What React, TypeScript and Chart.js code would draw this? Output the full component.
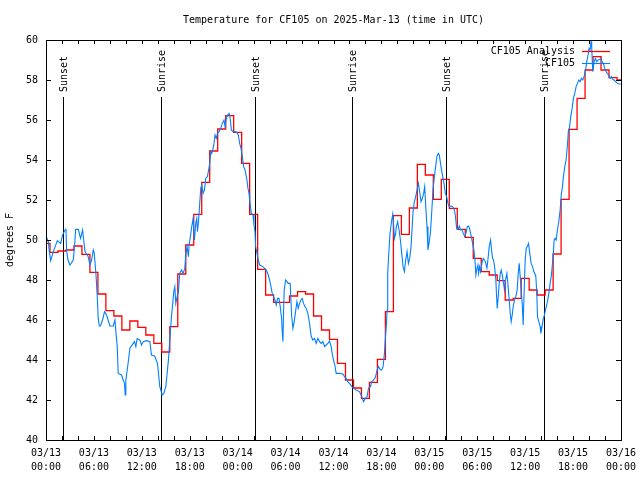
import React, { useEffect, useRef } from "react";
import { Chart, registerables } from "chart.js";

Chart.register(...registerables);

const TITLE = "Temperature for CF105 on 2025-Mar-13 (time in UTC)";
const Y_LABEL = "degrees F";
const ANALYSIS_NAME = "CF105 Analysis";
const OBS_NAME = "CF105";

// Hourly analysis values, hour 0 .. 72 (03/13 00:00 .. 03/16 00:00 UTC)
const analysisTemps = [
  49.83, 49.38, 49.45, 49.5, 49.7, 49.28, 48.38, 47.3, 46.47, 46.2,
  45.5, 45.95, 45.63, 45.25, 44.83, 44.4, 45.67, 48.3, 49.75, 51.28,
  52.88, 54.45, 55.55, 56.22, 55.38, 53.83, 51.28, 48.53, 47.25, 46.88,
  46.88, 47.2, 47.42, 47.3, 46.2, 45.5, 45.03, 43.83, 43.0, 42.6,
  42.08, 42.88, 44.03, 46.42, 51.22, 50.28, 51.6, 53.78, 53.25, 52.03,
  53.03, 51.58, 50.53, 50.13, 49.08, 48.42, 48.25, 47.97, 47.0, 47.08,
  48.08, 47.5, 47.25, 47.5, 49.3, 52.03, 55.53, 57.08, 58.5, 59.17,
  58.5, 58.12, 58.0,
];

// Observations: hours since 03/13 00:00 UTC and temperatures (F)
const obsHours = [
  0.0, 0.29, 0.42, 0.58, 0.92, 1.42, 1.83, 2.08, 2.38, 2.5, 2.58, 2.75, 3.0, 3.42, 3.63, 3.71,
  4.04, 4.33, 4.58, 4.88, 5.29, 5.5, 5.71, 5.92, 6.04, 6.25, 6.42, 6.54, 6.67, 6.83, 7.08, 7.33,
  7.58, 8.0, 8.42, 8.63, 8.75, 8.92, 9.04, 9.46, 9.67, 9.83, 9.92, 10.0, 10.17, 10.33, 10.5, 10.92,
  11.08, 11.25, 11.42, 11.75, 11.96, 12.17, 12.58,
  13.0, 13.21, 13.6, 13.96, 14.25, 14.38, 14.54, 14.75, 15.0, 15.17, 15.33, 15.5, 15.71, 15.83,
  16.0, 16.13, 16.25, 16.42, 16.58, 16.75, 16.96, 17.17, 17.38, 17.5, 17.67, 17.83, 17.92, 18.08,
  18.25, 18.42, 18.58, 18.75, 18.88, 18.96, 19.08, 19.25, 19.38, 19.5, 19.67, 19.83, 20.0, 20.21,
  20.33, 20.5, 20.63, 20.75, 20.92, 21.04, 21.17, 21.33, 21.46, 21.67, 21.88, 22.08, 22.29, 22.42,
  22.58, 22.75, 22.92, 23.04, 23.21, 23.42, 23.67, 23.88, 24.08, 24.25, 24.42, 24.58, 24.75, 24.92,
  25.13, 25.29, 25.42, 25.5, 25.71, 25.92, 26.04, 26.17, 26.25, 26.42, 26.58,
  26.75, 27.17, 27.5, 27.67, 27.83, 28.0, 28.17, 28.33, 28.5, 28.67, 28.83, 29.0, 29.17, 29.33,
  29.5, 29.58, 29.67, 29.75, 29.83, 30.0, 30.17, 30.33, 30.58, 30.75, 30.92, 31.08, 31.25, 31.42,
  31.58, 31.75, 31.92, 32.08, 32.25, 32.42, 32.58, 32.79, 33.0, 33.21, 33.42, 33.63, 33.83, 34.04,
  34.25, 34.46, 34.67, 34.88, 35.08, 35.29, 35.5, 35.71, 35.83, 36.0, 36.17, 36.33, 36.75, 37.17,
  37.38, 37.58, 37.79, 38.0, 38.29, 38.54, 38.83, 39.25, 39.54, 39.75, 40.0, 40.21, 40.38, 40.63,
  40.79, 41.04, 41.25, 41.46, 41.63, 41.88, 42.04, 42.21, 42.38, 42.5, 42.63, 42.71, 42.79, 42.92,
  43.08, 43.29, 43.42, 43.54, 43.63, 43.75, 43.88, 44.04, 44.21, 44.38, 44.54, 44.71, 44.88, 45.04,
  45.21, 45.38, 45.54, 45.71, 45.83, 45.96, 46.13, 46.29, 46.46, 46.63, 46.79, 46.96, 47.13, 47.29,
  47.42, 47.54, 47.71, 47.83, 47.96, 48.13, 48.29, 48.46, 48.63, 48.79, 48.96, 49.13,
  49.25, 49.46, 49.67, 49.83, 50.0, 50.17, 50.33, 50.5, 50.71, 50.92, 51.13, 51.25, 51.42, 51.58,
  51.75, 51.92, 52.08, 52.25, 52.42, 52.58, 52.75, 52.92, 53.08, 53.25, 53.42, 53.58, 53.71, 53.83,
  53.96, 54.08, 54.17, 54.29, 54.42, 54.58, 54.75, 54.92, 55.08, 55.21, 55.33, 55.5, 55.67, 55.79,
  55.92, 56.04, 56.17, 56.33, 56.42, 56.5, 56.63, 56.75, 56.88, 57.0, 57.17, 57.29, 57.42, 57.54,
  57.71, 57.83, 58.0, 58.13, 58.25, 58.38, 58.5, 58.67, 58.83, 59.0, 59.13, 59.25, 59.38, 59.5,
  59.63, 59.75, 59.88, 60.0, 60.13, 60.29, 60.42, 60.58, 60.75, 60.92, 61.08,
  61.33, 61.46, 61.54, 61.71, 61.88, 61.96, 62.08, 62.25, 62.38, 62.5, 62.67, 62.83, 62.96, 63.13,
  63.29, 63.42, 63.54, 63.63, 63.75, 63.88, 64.04, 64.21, 64.38, 64.54, 64.67, 64.79, 64.96, 65.13,
  65.29, 65.42, 65.54, 65.71, 65.88, 66.04, 66.21, 66.38, 66.54, 66.71, 66.88, 67.04, 67.21, 67.38,
  67.58, 67.71, 67.88, 68.0, 68.13, 68.25, 68.33, 68.46, 68.63, 68.79, 68.96, 69.13, 69.29, 69.46,
  69.63, 69.79, 69.96, 70.13, 70.29, 70.46, 70.63, 70.79, 70.96, 71.13, 71.33, 71.54, 71.75, 71.96,
];

const obsTemps = [
  50.2, 49.92, 49.42, 48.97, 49.42, 49.97, 49.83, 50.25, 50.5, 50.58, 49.5, 49.0, 48.75, 49.0, 50.0, 50.53,
  50.53, 50.08, 50.5, 49.42, 49.17, 48.75, 49.0, 49.5, 49.33, 48.33, 47.17, 46.08, 45.7, 45.7, 46.0, 46.42,
  46.25, 45.7, 45.7, 46.0, 45.42, 44.67, 43.33, 43.25, 43.0, 42.83, 42.25, 43.0, 43.5, 44.0, 44.58, 44.83,
  44.92, 44.67, 45.08, 45.0, 44.75, 44.92, 44.97,
  44.92, 44.25, 44.2, 43.83, 42.67, 42.5, 42.25, 42.33, 42.67, 43.33, 44.0, 45.0, 46.17, 46.67,
  47.42, 47.67, 46.83, 47.17, 47.42, 48.33, 48.5, 48.33, 48.58, 49.25, 49.67, 49.17, 49.75, 50.17,
  50.67, 51.08, 50.0, 50.83, 51.08, 50.42, 50.83, 51.83, 52.58, 52.75, 52.33, 52.5, 53.08, 53.17,
  53.42, 53.83, 54.42, 54.33, 54.58, 54.83, 55.25, 55.08, 55.33, 55.42, 55.58, 55.83, 56.0, 55.67,
  56.08, 56.25, 56.33, 56.17, 55.5, 55.42, 55.42, 55.38, 55.25, 54.83, 54.58, 54.17, 53.67, 53.5,
  53.08, 52.58, 52.33, 52.0, 51.33, 51.25, 50.75, 50.42, 49.67, 49.33, 49.0,
  48.75, 48.67, 48.53, 48.42, 48.25, 48.0, 47.67, 47.33, 47.17, 47.0, 46.75, 47.08, 47.08, 46.67,
  46.08, 45.42, 44.92, 46.5, 47.5, 48.0, 47.92, 47.83, 47.83, 46.25, 45.58, 45.92, 46.42, 46.92,
  46.58, 46.83, 47.0, 47.08, 46.83, 46.67, 46.58, 46.33, 45.83, 45.17, 45.0, 45.08, 44.83, 45.08,
  44.92, 44.83, 44.92, 44.67, 44.75, 44.83, 44.95, 44.67, 44.33, 44.0, 43.75, 43.33, 43.33, 43.3,
  43.17, 43.08, 42.92, 42.83, 42.67, 42.58, 42.5, 42.42, 42.17, 41.92, 42.08, 42.17, 42.58, 42.67,
  42.92, 43.0, 43.13, 43.5, 43.67, 43.5, 43.5, 43.67, 44.33, 45.08, 45.83, 46.5, 48.33, 49.33,
  50.33, 51.0, 51.3, 50.67, 50.08, 50.25, 50.67, 50.92, 50.5, 50.0, 49.33, 48.67, 48.42, 49.0,
  49.42, 48.83, 49.08, 49.67, 50.5, 51.42, 51.92, 52.17, 52.5, 52.83, 52.42, 51.92, 52.08, 52.33,
  52.67, 51.75, 50.67, 49.5, 49.83, 50.33, 51.33, 52.5, 53.17, 53.67, 54.2, 54.33,
  54.25, 53.67, 53.17, 52.83, 52.33, 52.17, 51.83, 51.67, 51.7, 51.67, 51.5, 51.25, 50.58, 50.53,
  50.7, 50.5, 50.53, 50.33, 50.17, 50.33, 50.67, 50.7, 50.5, 50.17, 49.83, 49.5, 49.0, 48.25,
  48.58, 48.75, 48.33, 48.67, 48.42, 48.83, 49.08, 49.0, 48.83, 48.58, 49.0, 49.67, 50.0, 49.5,
  49.08, 49.0, 48.67, 48.0, 47.17, 46.58, 47.17, 47.83, 48.33, 48.5, 48.17, 47.83, 47.5, 48.0,
  48.33, 47.83, 47.0, 46.33, 45.92, 46.25, 46.67, 47.0, 47.17, 47.5, 48.33, 48.83, 48.17, 47.5,
  46.83, 45.75, 47.5, 49.0, 49.58, 49.7, 49.83, 49.33, 48.83, 48.67, 48.42,
  48.2, 47.33, 46.17, 45.92, 45.67, 45.33, 45.58, 46.03, 46.2, 46.42, 46.7, 47.0, 47.33, 47.83,
  48.25, 48.83, 49.42, 50.0, 50.08, 50.0, 50.5, 50.92, 51.5, 52.33, 52.67, 53.17, 53.67, 54.0,
  54.75, 55.5, 55.58, 56.17, 56.58, 57.08, 57.33, 57.67, 57.83, 58.0, 57.92, 58.08, 58.0, 58.17,
  58.5, 58.92, 59.25, 59.58, 59.5, 59.92, 59.67, 58.42, 58.92, 59.08, 58.92, 59.0, 59.03, 59.08,
  58.92, 58.83, 58.58, 58.42, 58.33, 58.25, 58.08, 58.17, 58.03, 58.0, 57.92, 57.83, 57.8, 57.8,
];

const xTickHours = [0, 6, 12, 18, 24, 30, 36, 42, 48, 54, 60, 66, 72];
const xTickDates = ["03/13", "03/13", "03/13", "03/13", "03/14", "03/14", "03/14", "03/14", "03/15", "03/15", "03/15", "03/15", "03/16"];
const xTickTimes = ["00:00", "06:00", "12:00", "18:00", "00:00", "06:00", "12:00", "18:00", "00:00", "06:00", "12:00", "18:00", "00:00"];
const yMin = 40;
const yMax = 60;
const yStep = 2;

const sunHours = [2.13, 14.38, 26.15, 38.3, 50.06, 62.3];
const sunLabels = ["Sunset", "Sunrise", "Sunset", "Sunrise", "Sunset", "Sunrise"];

const FONT_FAMILY = "'DejaVu Sans Mono', 'Liberation Mono', monospace";
const FONT = `10px ${FONT_FAMILY}`;
const RED = "#ff0000";
const BLUE = "#0080ff";

const decorPlugin = {
  id: "decor",
  beforeDatasetsDraw(chart: any) {
    const { ctx, chartArea, scales } = chart;
    const { bottom } = chartArea;
    const x = scales.x;
    const y = scales.y;
    ctx.save();
    ctx.strokeStyle = "#000";
    ctx.lineWidth = 1;
    ctx.fillStyle = "#000";
    ctx.font = FONT;
    sunHours.forEach((h, i) => {
      const px = Math.round(x.getPixelForValue(h)) + 0.5;
      ctx.beginPath();
      ctx.moveTo(px, y.getPixelForValue(57.15));
      ctx.lineTo(px, bottom);
      ctx.stroke();
      ctx.save();
      ctx.translate(px + 1, y.getPixelForValue(57.4));
      ctx.rotate(-Math.PI / 2);
      ctx.textAlign = "left";
      ctx.textBaseline = "middle";
      ctx.fillText(sunLabels[i], 0, 0);
      ctx.restore();
    });
    ctx.restore();
  },
  afterDraw(chart: any) {
    const { ctx, chartArea, scales } = chart;
    const { left, right, top, bottom } = chartArea;
    const x = scales.x;
    const y = scales.y;
    ctx.save();
    ctx.strokeStyle = "#000";
    ctx.lineWidth = 1;
    ctx.strokeRect(Math.round(left) + 0.5, Math.round(top) + 0.5, Math.round(right - left), Math.round(bottom - top));
    ctx.beginPath();
    for (let h = 0; h <= 72; h += 2) {
      const px = Math.round(x.getPixelForValue(h)) + 0.5;
      ctx.moveTo(px, bottom);
      ctx.lineTo(px, bottom - 4);
      ctx.moveTo(px, top);
      ctx.lineTo(px, top + 4);
    }
    for (let v = yMin; v <= yMax; v += yStep) {
      const py = Math.round(y.getPixelForValue(v)) + 0.5;
      ctx.moveTo(left, py);
      ctx.lineTo(left + 5, py);
      ctx.moveTo(right, py);
      ctx.lineTo(right - 5, py);
    }
    ctx.stroke();
    ctx.fillStyle = "#000";
    ctx.font = FONT;
    ctx.textAlign = "center";
    ctx.textBaseline = "middle";
    ctx.fillText(TITLE, (left + right) / 2, 20);
    const rows = [
      { name: ANALYSIS_NAME, color: RED, y: 51 },
      { name: OBS_NAME, color: BLUE, y: 63 },
    ];
    rows.forEach((r) => {
      ctx.fillStyle = "#000";
      ctx.textAlign = "right";
      ctx.fillText(r.name, 575, r.y);
      ctx.strokeStyle = r.color;
      ctx.lineWidth = r.color === RED ? 1.3 : 1.1;
      ctx.beginPath();
      ctx.moveTo(582, r.y + 0.5);
      ctx.lineTo(610, r.y + 0.5);
      ctx.stroke();
    });
    ctx.restore();
  },
};

export default function App() {
  const canvasRef = useRef<HTMLCanvasElement | null>(null);

  useEffect(() => {
    const canvas = canvasRef.current;
    if (!canvas) return;
    const analysisData = analysisTemps.map((v, i) => ({ x: i, y: v }));
    const obsData = obsHours.map((h, i) => ({ x: h, y: obsTemps[i] }));

    const chart = new Chart(canvas, {
      type: "line",
      data: {
        datasets: [
          {
            label: OBS_NAME,
            data: obsData,
            borderColor: BLUE,
            borderWidth: 1.1,
            pointRadius: 0,
            tension: 0,
            fill: false,
          },
          {
            label: ANALYSIS_NAME,
            data: analysisData,
            borderColor: RED,
            borderWidth: 1.3,
            pointRadius: 0,
            stepped: "middle",
            fill: false,
          },
        ],
      },
      options: {
        responsive: false,
        animation: false,
        parsing: false,
        layout: { padding: { top: 40, right: 19, left: 0, bottom: 0 } },
        plugins: {
          legend: { display: false },
          title: { display: false },
          tooltip: { enabled: false },
        },
        scales: {
          x: {
            type: "linear",
            min: 0,
            max: 72,
            afterBuildTicks: (scale: any) => {
              scale.ticks = xTickHours.map((v) => ({ value: v }));
            },
            afterFit: (scale: any) => {
              scale.height = 40;
              scale.paddingLeft = 0;
              scale.paddingRight = 0;
            },
            grid: { display: false, drawTicks: false },
            border: { display: false },
            ticks: {
              autoSkip: false,
              maxRotation: 0,
              minRotation: 0,
              padding: 7,
              color: "#000",
              font: { family: FONT_FAMILY, size: 10, lineHeight: 1.36 },
              callback: (value: any) => {
                const i = xTickHours.indexOf(Number(value));
                return i >= 0 ? [xTickDates[i], xTickTimes[i]] : "";
              },
            },
          },
          y: {
            type: "linear",
            min: yMin,
            max: yMax,
            afterFit: (scale: any) => {
              scale.width = 46;
              scale.paddingTop = 0;
              scale.paddingBottom = 0;
            },
            grid: { display: false, drawTicks: false },
            border: { display: false },
            ticks: {
              stepSize: yStep,
              padding: 8,
              color: "#000",
              font: { family: FONT_FAMILY, size: 10 },
              callback: (value: any) => String(value),
            },
            title: {
              display: true,
              text: Y_LABEL,
              color: "#000",
              font: { family: FONT_FAMILY, size: 10 },
              padding: { top: 4, bottom: 0 },
            },
          },
        },
      },
      plugins: [decorPlugin],
    });
    return () => chart.destroy();
  }, []);

  return (
    <div style={{ position: "absolute", left: 0, top: 0, width: 640, height: 480, background: "#fff" }}>
      <canvas ref={canvasRef} width={640} height={480} style={{ display: "block" }} />
    </div>
  );
}
